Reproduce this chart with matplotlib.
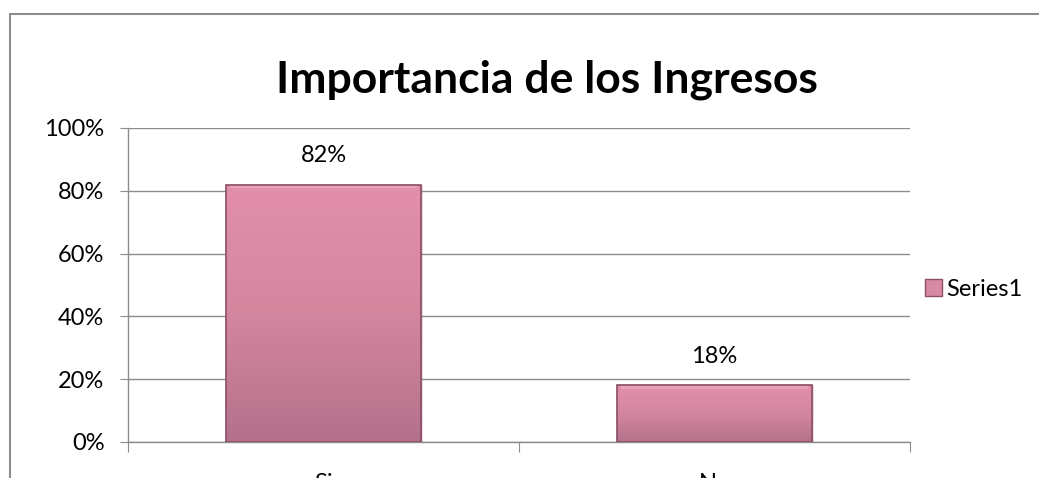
import matplotlib

matplotlib.use("Agg")
import matplotlib.pyplot as plt
import numpy as np
from matplotlib.colors import LinearSegmentedColormap
from matplotlib.lines import Line2D
from matplotlib.patches import Patch

categories = ["Si", "No"]
values = [82, 18]
series_name = "Series1"
title = "Importancia de los Ingresos"

plt.rcParams["font.family"] = ["Lato", "DejaVu Sans"]

W, H = 1039, 478
fig = plt.figure(figsize=(W / 100, H / 100), dpi=100)
ax = fig.add_axes([128 / W, 1 - 442 / H, (910 - 128) / W, (442 - 128) / H])

x = np.arange(len(categories))
bars = ax.bar(x, values, width=0.5, color="#d88aa5", edgecolor="#8c5068",
              linewidth=1.0, zorder=3, label=series_name)

# vertical gradient inside each bar, lighter at top
grad_cmap = LinearSegmentedColormap.from_list("pinkgrad", ["#b3728a", "#d4869f", "#e28fab"])
grad = np.linspace(0, 1, 256).reshape(-1, 1)
for rect in bars:
    x0, w, h = rect.get_x(), rect.get_width(), rect.get_height()
    im = ax.imshow(grad, cmap=grad_cmap, origin="lower", aspect="auto",
                   extent=(x0, x0 + w, 0, h), zorder=3.5)
    im.set_clip_path(rect)
    # light bevel at top edge
    ax.fill_between([x0 + 0.01, x0 + w - 0.01], h - 1.2, h - 0.1, color="#f2b0c8",
                    alpha=0.6, zorder=3.6, linewidth=0)
    ax.bar(x0 + w / 2, h, width=w, fill=False, edgecolor="#8c5068", linewidth=1.2, zorder=4)

ax.bar_label(bars, labels=[f"{v}%" for v in values], padding=13, fontsize=17, zorder=5)

ax.set_xlim(-0.5, len(categories) - 0.5)
ax.set_ylim(0, 100)
ax.set_yticks(np.arange(0, 101, 20))
ax.set_yticklabels([f"{t}%" for t in range(0, 101, 20)], fontsize=17)
ax.yaxis.grid(True, color="#8c8c8c", linewidth=1.0, zorder=0)
ax.set_axisbelow(True)

# category boundaries as ticks, labels centred under each bar
ax.set_xticks(np.arange(-0.5, len(categories)), minor=False)
ax.set_xticklabels([])
ax.set_xticks(x, minor=True)
ax.set_xticklabels(categories, minor=True, fontsize=17)
ax.tick_params(axis="x", which="major", length=7, color="#8c8c8c", direction="out")
ax.tick_params(axis="x", which="minor", length=0, pad=22)
ax.tick_params(axis="y", length=6, color="#8c8c8c", direction="out", pad=11)

for side in ["top", "right"]:
    ax.spines[side].set_visible(False)
for side in ["left", "bottom"]:
    ax.spines[side].set_color("#8c8c8c")
    ax.spines[side].set_linewidth(1.0)

fig.text(547 / W, 1 - 80 / H, title, ha="center", va="center",
         fontsize=32, fontweight="bold")

handle = Patch(facecolor="#d88aa5", edgecolor="#8c5068", linewidth=1.0)
fig.legend([handle], [series_name], loc="center left",
           bbox_to_anchor=(904 / W, 1 - 289 / H), frameon=False, fontsize=17,
           handlelength=0.7, handleheight=0.7, handletextpad=0.2)

# outer chart border (left and top)
fig.add_artist(Line2D([10 / W, 10 / W, 1038 / W], [0, 1 - 14 / H, 1 - 14 / H],
                      transform=fig.transFigure, color="#8c8c8c", linewidth=1.5))

fig.savefig("out.png", dpi=100)
